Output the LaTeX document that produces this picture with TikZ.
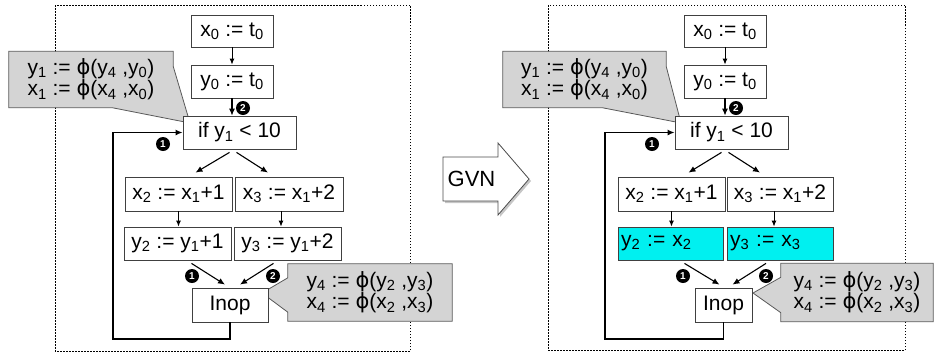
\documentclass[tikz,border=0pt]{standalone}
\usepackage{fontspec}
\setmainfont{Liberation Sans}
\newfontfamily\phifont{DejaVu Sans}
\usetikzlibrary{arrows.meta,shadows,backgrounds}
\newcommand{\low}[1]{\textsubscript{#1}}
\newcommand{\phisym}{{\phifont ϕ}}
\definecolor{aqua}{RGB}{0,240,240}
\tikzset{
  blk/.style={draw=black!75, fill=white, line width=0.8pt, inner sep=0pt,
    minimum height=33pt, font=\fontsize{21}{22}\selectfont},
  hit/.style={blk, fill=aqua},
  note/.style={inner sep=0pt, align=left, minimum height=56pt,
    font=\fontsize{21}{20}\selectfont},
  bubble/.style={draw=black!65, fill=black!17, line width=0.8pt},
  flow/.style={-{Latex[length=7pt,width=6pt]}, line width=1.1pt},
  step2/.style={-{Latex[length=6pt,width=5pt]}, line width=1pt},
  back/.style={-{Latex[length=7pt,width=6pt]}, line width=1.7pt},
  badge/.style={circle, fill=black, text=white, inner sep=0pt,
    minimum size=14pt, font=\fontsize{10}{10}\selectfont\bfseries},
  frame/.style={dash pattern=on 1.5pt off 1.5pt, line width=1pt}
}
\begin{document}
\begin{tikzpicture}[x=1pt, y=-1pt]
  \useasboundingbox (0,0) rectangle (935,354);

  % Left: before GVN
  \node[blk, minimum width=82pt, minimum height=32pt] (Lx0) at (232,31) {x\low{0} := t\low{0}};
  \node[blk, minimum width=82pt] (Ly0) at (232,81.5) {y\low{0} := t\low{0}};
  \node[blk, minimum width=113pt] (Lif) at (239.5,132.5) {if y\low{1} < 10};
  \node[blk, minimum width=107pt, minimum height=34pt] (Lx2) at (178.5,194) {x\low{2} := x\low{1}+1};
  \node[blk, minimum width=108pt, minimum height=34pt] (Lx3) at (289,194) {x\low{3} := x\low{1}+2};
  \node[blk, minimum width=107pt] (Ly2) at (177.5,243.5) {y\low{2} := y\low{1}+1};
  \node[blk, minimum width=107pt] (Ly3) at (287.5,243.5) {y\low{3} := y\low{1}+2};
  \node[blk, minimum width=76pt, minimum height=34pt] (Linop) at (230,305) {Inop};

  % Left: phi notes
  \node[note, minimum width=164pt] (Lphi1) at (91,79.5) {y\low{1} := \phisym(y\low{4} ,y\low{0})\\x\low{1} := \phisym(x\low{4} ,x\low{0})};
  \node[note, minimum width=164pt, minimum height=57pt] (Lphi4) at (370,292.5) {y\low{4} := \phisym(y\low{2} ,y\low{3})\\x\low{4} := \phisym(x\low{2} ,x\low{3})};
  \coordinate (Ltip1) at (190,123);
  \coordinate (Ltip4) at (262,293);

  % Left: badges
  \node[badge] (La1) at (163,144) {1};
  \node[badge] (La2) at (243,108) {2};
  \node[badge] (Lb1) at (192,276) {1};
  \node[badge] (Lb2) at (273,276) {2};

  % Left: edges
  \draw[step2] (Lx0) -- (Ly0);
  \draw[flow] (Ly0.south) -- (Ly0.south |- Lif.north);
  \draw[flow] ([xshift=-10pt,yshift=-3pt]Lif.south) -- ([xshift=17pt,yshift=4pt]Lx2.north);
  \draw[flow] ([xshift=-3pt,yshift=-3pt]Lif.south) -- ([xshift=-21pt,yshift=4pt]Lx3.north);
  \draw[step2] (Lx2.south) -- (Lx2.south |- Ly2.north);
  \draw[step2] ([xshift=-8pt]Lx3.south) -- ([xshift=-8pt]Lx3.south |- Ly3.north);
  \draw[flow] ([xshift=14pt,yshift=-3pt]Ly2.south) -- ([xshift=-5pt,yshift=3pt]Linop.north);
  \draw[flow] ([xshift=-14pt,yshift=-3pt]Ly3.south) -- ([xshift=10pt,yshift=3pt]Linop.north);
  \draw[back] (Linop.south) |- (113,339) |- (Lif.west);

  % GVN arrow
  \draw[draw=black!70, fill=white, line width=0.8pt,
    drop shadow={shadow xshift=2pt, shadow yshift=-2pt, opacity=0.45}]
    (443,157) -- (498,157) -- (498,143) -- (529,179) -- (498,215) -- (498,201) -- (443,201) -- cycle;
  \node[font=\fontsize{22}{22}\selectfont] (gvn) at (471.5,179) {GVN};

  % Right: after GVN
  \node[blk, minimum width=82pt, minimum height=32pt] (Rx0) at (725,31) {x\low{0} := t\low{0}};
  \node[blk, minimum width=82pt] (Ry0) at (725,81.5) {y\low{0} := t\low{0}};
  \node[blk, minimum width=113pt] (Rif) at (731.5,132.5) {if y\low{1} < 10};
  \node[blk, minimum width=107pt, minimum height=34pt] (Rx2) at (671.5,194) {x\low{2} := x\low{1}+1};
  \node[blk, minimum width=106pt, minimum height=34pt] (Rx3) at (780,194) {x\low{3} := x\low{1}+2};
  \node[hit, minimum width=105pt, text width=99pt, inner xsep=3pt] (Ry2) at (670.5,243.5) {y\low{2} := x\low{2}};
  \node[hit, minimum width=106pt, text width=100pt, inner xsep=3pt] (Ry3) at (780,243.5) {y\low{3} := x\low{3}};
  \node[blk, minimum width=57pt, minimum height=34pt] (Rinop) at (723.5,305) {Inop};

  % Right: phi notes
  \node[note, minimum width=163pt] (Rphi1) at (584.5,79.5) {y\low{1} := \phisym(y\low{4} ,y\low{0})\\x\low{1} := \phisym(x\low{4} ,x\low{0})};
  \node[note, minimum width=152pt, minimum height=58pt] (Rphi4) at (857,292.5) {y\low{4} := \phisym(y\low{2} ,y\low{3})\\x\low{4} := \phisym(x\low{2} ,x\low{3})};
  \coordinate (Rtip1) at (681,123);
  \coordinate (Rtip4) at (753,293);

  % Right: badges
  \node[badge] (Ra1) at (652,144) {1};
  \node[badge] (Ra2) at (736,108) {2};
  \node[badge] (Rb1) at (683,276) {1};
  \node[badge] (Rb2) at (766,276) {2};

  % Right: edges
  \draw[step2] (Rx0) -- (Ry0);
  \draw[flow] (Ry0.south) -- (Ry0.south |- Rif.north);
  \draw[flow] ([xshift=-10pt,yshift=-3pt]Rif.south) -- ([xshift=17pt,yshift=4pt]Rx2.north);
  \draw[flow] ([xshift=-3pt,yshift=-3pt]Rif.south) -- ([xshift=-20pt,yshift=4pt]Rx3.north);
  \draw[step2] (Rx2.south) -- (Rx2.south |- Ry2.north);
  \draw[step2] ([xshift=-6pt]Rx3.south) -- ([xshift=-6pt]Rx3.south |- Ry3.north);
  \draw[flow] ([xshift=14pt,yshift=-3pt]Ry2.south) -- ([xshift=-4pt,yshift=3pt]Rinop.north);
  \draw[flow] ([xshift=-14pt,yshift=-3pt]Ry3.south) -- ([xshift=9pt,yshift=3pt]Rinop.north);
  \draw[back] (Rinop.south) |- (605,339) |- (Rif.west);

  % frames and note shapes
  \begin{pgfonlayer}{background}
    \draw[frame] (55,5) rectangle (410,351);
    \draw[frame] (548,5) rectangle (905,350);
    \draw[bubble] (Lphi1.north west) -- (Lphi1.north east) -- ([yshift=-15pt]Lphi1.north east)
      -- (Ltip1) -- ([xshift=-61pt]Lphi1.south east) -- (Lphi1.south west) -- cycle;
    \draw[bubble] (Lphi4.north west) -- (Lphi4.north east) -- (Lphi4.south east) -- (Lphi4.south west)
      -- ([yshift=9pt]Lphi4.south west) -- (Ltip4) -- ([yshift=-14pt]Lphi4.north west) -- cycle;
    \draw[bubble] (Rphi1.north west) -- (Rphi1.north east) -- ([yshift=-15pt]Rphi1.north east)
      -- (Rtip1) -- ([xshift=-64pt]Rphi1.south east) -- (Rphi1.south west) -- cycle;
    \draw[bubble] (Rphi4.north west) -- (Rphi4.north east) -- (Rphi4.south east) -- (Rphi4.south west)
      -- ([yshift=9pt]Rphi4.south west) -- (Rtip4) -- ([yshift=-14pt]Rphi4.north west) -- cycle;
  \end{pgfonlayer}
\end{tikzpicture}
\end{document}
